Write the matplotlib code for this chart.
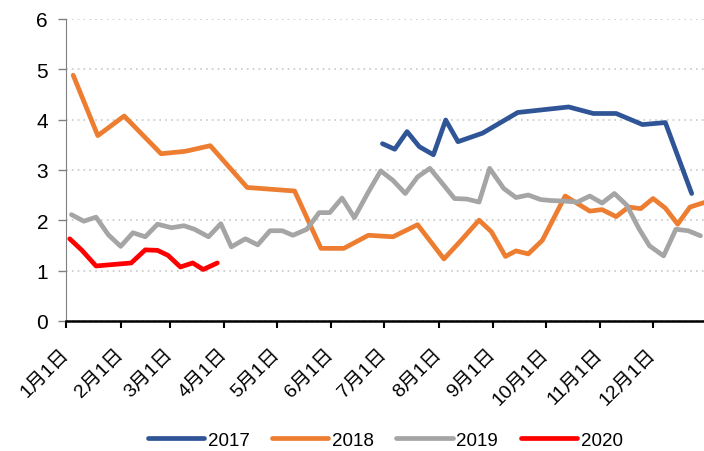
import numpy as np
import matplotlib
matplotlib.use("Agg")
import matplotlib.pyplot as plt

plt.rcParams['font.family'] = ['Liberation Sans', 'Noto Sans CJK SC', 'DejaVu Sans']

# --- data: x = day of year (0 = 1月1日), y = value ---
month_starts = [0, 31, 59, 90, 120, 151, 181, 212, 243, 273, 304, 334]
month_labels = [f"{m}月1日" for m in range(1, 13)]

days_2017 = [180, 187, 194, 201, 209, 216, 223, 237, 257, 286, 300, 313, 328, 341, 356]
vals_2017 = [3.52, 3.41, 3.76, 3.46, 3.30, 3.99, 3.56, 3.73, 4.14, 4.25, 4.12, 4.12, 3.90, 3.94, 2.53]

days_2018 = [4, 18, 33, 54, 68, 82, 103, 130, 145, 158, 172, 186, 200, 215, 224, 235,
             242, 250, 256, 263, 271, 284, 291, 298, 305, 313, 320, 327, 334, 341, 348, 355, 363]
vals_2018 = [4.88, 3.68, 4.07, 3.32, 3.37, 3.48, 2.65, 2.58, 1.44, 1.44, 1.70, 1.67, 1.91, 1.23, 1.57, 2.00,
             1.77, 1.28, 1.39, 1.33, 1.60, 2.48, 2.33, 2.18, 2.21, 2.07, 2.26, 2.23, 2.43, 2.24, 1.92, 2.26, 2.35]

days_2019 = [3, 10, 17, 24, 31, 38, 45, 52, 60, 67, 73, 81, 88, 94, 102, 109, 116, 123, 129, 137,
             144, 150, 157, 164, 172, 179, 186, 193, 200, 207, 215, 221, 228, 235, 241, 249, 256, 263,
             270, 276, 283, 291, 298, 305, 312, 319, 326, 332, 340, 347, 354, 361]
vals_2019 = [2.11, 1.98, 2.06, 1.71, 1.48, 1.75, 1.67, 1.92, 1.85, 1.89, 1.82, 1.67, 1.93, 1.47, 1.63, 1.51,
             1.79, 1.79, 1.70, 1.82, 2.15, 2.15, 2.44, 2.05, 2.56, 2.98, 2.79, 2.53, 2.86, 3.03, 2.69, 2.43,
             2.42, 2.36, 3.03, 2.63, 2.45, 2.50, 2.41, 2.39, 2.38, 2.36, 2.48, 2.34, 2.53, 2.30, 1.83, 1.49,
             1.29, 1.82, 1.79, 1.69]

days_2020 = [2, 9, 17, 37, 45, 52, 58, 65, 72, 78, 86]
vals_2020 = [1.63, 1.40, 1.09, 1.15, 1.41, 1.40, 1.30, 1.07, 1.15, 1.02, 1.15]

series = [
    ("2017", days_2017, vals_2017, "#2F5597"),
    ("2018", days_2018, vals_2018, "#ED7D31"),
    ("2019", days_2019, vals_2019, "#A5A5A5"),
    ("2020", days_2020, vals_2020, "#FF0000"),
]

# --- plotting ---
fig = plt.figure(figsize=(7.04, 4.52), dpi=100)
ax = fig.add_axes([0.094, 0.288, 0.906, 0.668])

for name, d, v, c in series:
    ax.plot(d, v, color=c, linewidth=3.4, label=name, solid_capstyle='round')

ax.set_xlim(0, 363)
ax.set_ylim(0, 6)
ax.set_yticks(range(0, 7))
ax.set_xticks(month_starts)
ax.set_xticklabels(month_labels, rotation=45, ha='right', va='center',
                   rotation_mode='anchor', fontsize=14)
ax.tick_params(axis='x', length=5, width=1.5, color='black', pad=17)
ax.tick_params(axis='y', length=6, width=1, color='#808080', labelsize=15, pad=7)

ax.grid(axis='y', linestyle=(0, (1, 2.5)), color='#C8C8C8', linewidth=1.2)
ax.set_axisbelow(True)

ax.spines['top'].set_visible(False)
ax.spines['right'].set_visible(False)
ax.spines['left'].set_color('#808080')
ax.spines['bottom'].set_color('black')
ax.spines['bottom'].set_linewidth(1.8)

ax.legend(loc='center', bbox_to_anchor=(0.5, -0.395), ncol=4, frameon=False,
          fontsize=13.5, handlelength=3.0, columnspacing=1.2, handletextpad=0.2,
          borderpad=0.2)

plt.savefig("out.png", dpi=100)
